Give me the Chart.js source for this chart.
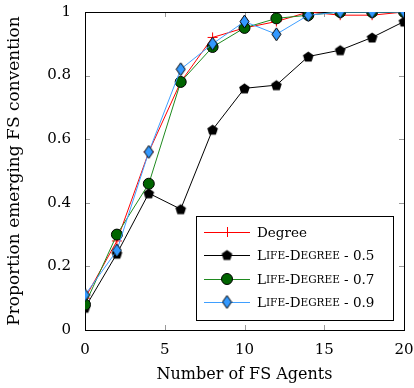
<!DOCTYPE html>
<html>
<head>
<meta charset="utf-8">
<script src="https://cdn.jsdelivr.net/npm/chart.js@4"></script>
<style>
  html, body { margin: 0; padding: 0; background: #fff; }
  #wrap { width: 414px; height: 388px; }
</style>
</head>
<body>
<div id="wrap"><canvas id="chart"></canvas></div>
<script>
const agents = [0, 2, 4, 6, 8, 10, 12, 14, 16, 18, 20];
const degree = [0.10, 0.28, 0.56, 0.78, 0.92, 0.95, 0.97, 1.00, 0.99, 0.99, 1.00];
const lifeDegree05 = [0.07, 0.24, 0.43, 0.38, 0.63, 0.76, 0.77, 0.86, 0.88, 0.92, 0.97];
const lifeDegree07 = [0.08, 0.30, 0.46, 0.78, 0.89, 0.95, 0.98, 0.99, 1.00, 1.00, 1.00];
const lifeDegree09 = [0.11, 0.25, 0.56, 0.82, 0.90, 0.97, 0.93, 0.99, 1.00, 1.00, 1.00];
const seriesNames = ["Degree", "Life-Degree - 0.5", "Life-Degree - 0.7", "Life-Degree - 0.9"];

const FONT = "'DejaVu Serif', 'Liberation Serif', serif";

function makePentagon() {
    let c = document.createElement("canvas");
    c.width = 13; c.height = 13;
    let g = c.getContext("2d");
    g.beginPath();
    for (let i = 0; i < 5; i++) {
        let a = -Math.PI / 2 + i * 2 * Math.PI / 5;
        let px = 6.5 + 5.6 * Math.cos(a), py = 7 + 5.6 * Math.sin(a);
        if (i === 0) g.moveTo(px, py); else g.lineTo(px, py);
    }
    g.closePath();
    g.fillStyle = "#000";
    g.fill();
    return c;
}

function makeDiamond() {
    let c = document.createElement("canvas");
    c.width = 11; c.height = 15;
    let g = c.getContext("2d");
    g.beginPath();
    g.moveTo(5.5, 1); g.lineTo(10, 7.5); g.lineTo(5.5, 14); g.lineTo(1, 7.5);
    g.closePath();
    g.fillStyle = "#3399ff";
    g.fill();
    g.lineWidth = 1;
    g.strokeStyle = "#000";
    g.stroke();
    return c;
}

const pentagon = makePentagon();
const diamond = makeDiamond();

function toPoints(values) {
    return agents.map((x, i) => ({ x: x, y: values[i] }));
}

const frame = {
    id: "frame",
    beforeDatasetsDraw(chart) {
        let ctx = chart.ctx, a = chart.chartArea;
        let xs = chart.scales.x, ys = chart.scales.y;
        ctx.save();
        ctx.strokeStyle = "#999";
        ctx.lineWidth = 1;
        ctx.beginPath();
        xs.ticks.forEach(t => {
            let px = Math.round(xs.getPixelForValue(t.value)) + 0.5;
            ctx.moveTo(px, a.bottom); ctx.lineTo(px, a.bottom - 5);
            ctx.moveTo(px, a.top); ctx.lineTo(px, a.top + 5);
        });
        ys.ticks.forEach(t => {
            let py = Math.round(ys.getPixelForValue(t.value)) + 0.5;
            ctx.moveTo(a.left, py); ctx.lineTo(a.left + 5, py);
            ctx.moveTo(a.right, py); ctx.lineTo(a.right - 5, py);
        });
        ctx.stroke();
        ctx.strokeStyle = "#000";
        ctx.strokeRect(Math.round(a.left) + 0.5, Math.round(a.top) + 0.5,
            Math.round(a.right - a.left), Math.round(a.bottom - a.top));
        ctx.restore();
    }
};

function drawCapsText(ctx, text, x, y, size, caps) {
    let small = size * 0.78;
    for (let ch of text) {
        let s = size, out = ch;
        if (caps && ch >= "a" && ch <= "z") { s = small; out = ch.toUpperCase(); }
        ctx.font = s + "px " + FONT;
        ctx.fillText(out, x, y);
        x += ctx.measureText(out).width;
    }
}

const legendBox = {
    id: "legendBox",
    afterDraw(chart) {
        let ctx = chart.ctx;
        let left = 196.5, top = 216.5, w = 197, h = 104;
        ctx.save();
        ctx.fillStyle = "#fff";
        ctx.fillRect(left, top, w, h);
        ctx.strokeStyle = "#000";
        ctx.lineWidth = 1;
        ctx.strokeRect(left, top, w, h);
        let rows = [232, 255, 279, 302];
        chart.data.datasets.forEach((ds, i) => {
            let y = rows[i];
            ctx.strokeStyle = ds.borderColor;
            ctx.lineWidth = 1;
            ctx.beginPath();
            ctx.moveTo(204, y + 0.5); ctx.lineTo(250, y + 0.5);
            ctx.stroke();
            let mx = 227;
            if (ds.pointStyle === "cross") {
                ctx.beginPath();
                ctx.moveTo(mx - 5, y + 0.5); ctx.lineTo(mx + 5, y + 0.5);
                ctx.moveTo(mx + 0.5, y - 5); ctx.lineTo(mx + 0.5, y + 5);
                ctx.stroke();
            } else if (ds.pointStyle === "circle") {
                ctx.beginPath();
                ctx.arc(mx, y, ds.pointRadius, 0, Math.PI * 2);
                ctx.fillStyle = ds.pointBackgroundColor;
                ctx.fill();
                ctx.strokeStyle = "#000";
                ctx.stroke();
            } else {
                let img = ds.pointStyle;
                ctx.drawImage(img, mx - img.width / 2, y - img.height / 2);
            }
            ctx.fillStyle = "#000";
            ctx.textBaseline = "middle";
            ctx.textAlign = "left";
            drawCapsText(ctx, ds.label, 257, y + 1, 13.5, i > 0);
        });
        ctx.restore();
    }
};

new Chart(document.getElementById("chart"), {
    type: "line",
    data: {
        datasets: [
            {
                label: seriesNames[0], data: toPoints(degree),
                borderColor: "#ff0000", borderWidth: 1,
                pointStyle: "cross", pointRadius: 5, pointBorderColor: "#ff0000",
                pointBorderWidth: 1, order: 3
            },
            {
                label: seriesNames[1], data: toPoints(lifeDegree05),
                borderColor: "#000000", borderWidth: 1,
                pointStyle: pentagon, order: 2
            },
            {
                label: seriesNames[2], data: toPoints(lifeDegree07),
                borderColor: "#1f8a1f", borderWidth: 1,
                pointStyle: "circle", pointRadius: 5.5,
                pointBackgroundColor: "#006400", pointBorderColor: "#000", pointBorderWidth: 1,
                order: 1
            },
            {
                label: seriesNames[3], data: toPoints(lifeDegree09),
                borderColor: "#3f9fff", borderWidth: 1,
                pointStyle: diamond, order: 0
            }
        ]
    },
    options: {
        responsive: true,
        maintainAspectRatio: false,
        animation: false,
        layout: { padding: { top: 12, right: 10, left: 0, bottom: 0 } },
        plugins: {
            legend: { display: false },
            tooltip: { enabled: false }
        },
        elements: { line: { tension: 0 } },
        scales: {
            x: {
                type: "linear", min: 0, max: 20,
                grid: { display: false }, border: { display: false },
                ticks: { stepSize: 5, color: "#000", padding: 3, maxRotation: 0,
                    font: { family: FONT, size: 15 } },
                title: { display: true, text: "Number of FS Agents", color: "#000",
                    font: { family: FONT, size: 16 }, padding: { top: 6 } },
                afterFit(s) { s.height = 58; s.paddingLeft = 0; s.paddingRight = 0; }
            },
            y: {
                min: 0, max: 1,
                grid: { display: false }, border: { display: false },
                ticks: { stepSize: 0.2, color: "#000", padding: 6,
                    font: { family: FONT, size: 15 },
                    callback: v => (Math.abs(v) < 1e-9 ? "0" : Math.abs(v - 1) < 1e-9 ? "1" : v.toFixed(1)) },
                title: { display: true, text: "Proportion emerging FS convention", color: "#000",
                    font: { family: FONT, size: 17 }, padding: { bottom: 4 } },
                afterFit(s) { s.width = 85; s.paddingTop = 0; s.paddingBottom = 0; }
            }
        }
    },
    plugins: [frame, legendBox]
});
</script>
</body>
</html>
